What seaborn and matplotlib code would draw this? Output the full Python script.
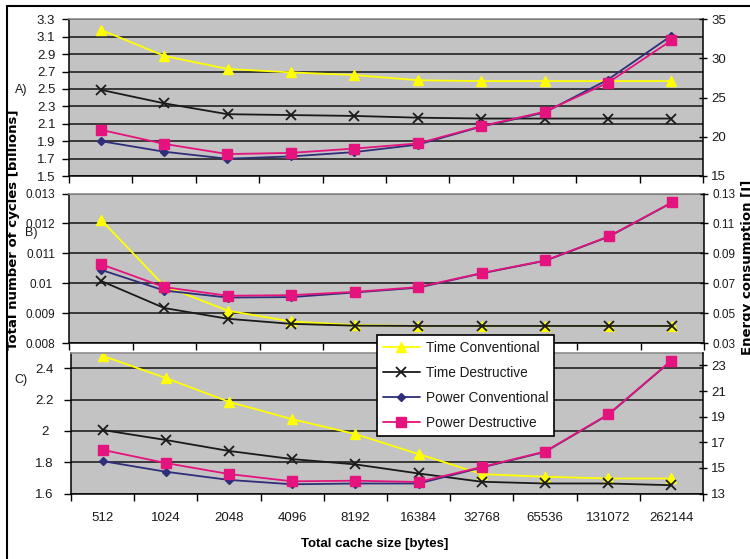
import numpy as np
import matplotlib
matplotlib.use("Agg")
import matplotlib.pyplot as plt
from matplotlib.lines import Line2D
from matplotlib.ticker import FixedLocator
import seaborn as sns

# Cache sizes (bytes) shared by all three panels
cache_sizes = ["512", "1024", "2048", "4096", "8192", "16384",
               "32768", "65536", "131072", "262144"]

# Panel A: cycles [billions] (left) and energy [J] (right)
a_time_conv = [3.18, 2.88, 2.73, 2.69, 2.66, 2.60, 2.59, 2.59, 2.59, 2.59]
a_time_dest = [2.49, 2.335, 2.21, 2.20, 2.19, 2.17, 2.16, 2.16, 2.16, 2.16]
a_power_conv = [19.45, 18.1, 17.2, 17.5, 18.05, 19.0, 21.3, 23.1, 27.3, 32.9]
a_power_dest = [20.9, 19.1, 17.8, 17.95, 18.5, 19.15, 21.35, 23.2, 26.9, 32.3]

# Panel B
b_time_conv = [0.01213, 0.00991, 0.00908, 0.00872, 0.00860, 0.00857,
               0.00857, 0.00857, 0.00857, 0.00857]
b_time_dest = [0.01008, 0.00917, 0.00881, 0.00864, 0.00858, 0.00857,
               0.00857, 0.00857, 0.00857, 0.00857]
b_power_conv = [0.0790, 0.0651, 0.0604, 0.0607, 0.0638, 0.0670,
                0.0766, 0.0850, 0.1011, 0.1240]
b_power_dest = [0.0828, 0.0674, 0.0616, 0.0620, 0.0642, 0.0674,
                0.0768, 0.0852, 0.1013, 0.1242]

# Panel C
c_time_conv = [2.48, 2.338, 2.186, 2.075, 1.98, 1.852, 1.724, 1.707, 1.696, 1.696]
c_time_dest = [2.006, 1.942, 1.872, 1.82, 1.786, 1.728, 1.675, 1.664, 1.664, 1.653]
c_power_conv = [15.53, 14.7, 14.06, 13.72, 13.78, 13.78, 15.03, 16.25, 19.15, 23.37]
c_power_dest = [16.41, 15.38, 14.52, 13.95, 14.0, 13.9, 15.07, 16.28, 19.18, 23.39]

series_labels = ["Time Conventional", "Time Destructive",
                 "Power Conventional", "Power Destructive"]

YELLOW = "#FFFF00"
BLACK = "#1a1a1a"
NAVY = "#2E2E7A"
PINK = "#E4137D"
PLOT_BG = "#C3C3C3"
GRID = "#222222"
TEXT = "#1a1a1a"

styles = [
    dict(color=YELLOW, marker="^", markersize=7.5, mec=YELLOW, mfc=YELLOW, mew=1),
    dict(color=BLACK, marker="x", markersize=7, mec=BLACK, mew=1.3),
    dict(color=NAVY, marker="D", markersize=4.5, mec=NAVY, mfc=NAVY, mew=1),
    dict(color=PINK, marker="s", markersize=6.5, mec=PINK, mfc=PINK, mew=1),
]

sns.set_theme(style="white")
plt.rcParams["font.family"] = ["Liberation Sans", "DejaVu Sans"]

W, H = 750, 559
fig = plt.figure(figsize=(W / 100, H / 100), dpi=100)
fig.patch.set_facecolor("white")


def rect(x0, y0, x1, y1):
    return [x0 / W, 1 - y1 / H, (x1 - x0) / W, (y1 - y0) / H]


def fmt(v):
    return "%g" % round(v, 6)


def draw_panel(box, left_lim, left_ticks, right_lim, right_ticks,
               tc, td, pc, pdv, fs, left_pad, show_x):
    ax = fig.add_axes(rect(*box))
    ax.set_facecolor(PLOT_BG)
    ax2 = ax.twinx()

    for vals, st in ((tc, styles[0]), (td, styles[1])):
        sns.lineplot(x=cache_sizes, y=vals, ax=ax, estimator=None,
                     errorbar=None, sort=False, linewidth=1.3, **st)
    for vals, st in ((pc, styles[2]), (pdv, styles[3])):
        sns.lineplot(x=cache_sizes, y=vals, ax=ax2, estimator=None,
                     errorbar=None, sort=False, linewidth=1.3, **st)

    ax.set_xlim(-0.5, len(cache_sizes) - 0.5)
    ax.set_ylim(*left_lim)
    ax2.set_ylim(*right_lim)

    # left axis
    ax.set_yticks(left_ticks, [fmt(v) for v in left_ticks], ha="center")
    ax.tick_params(axis="y", direction="out", length=5, width=1,
                   color="black", labelsize=fs, labelcolor=TEXT, pad=left_pad,
                   left=True)
    ax.yaxis.grid(True, color=GRID, linewidth=1.2)
    ax.xaxis.grid(False)
    ax.set_axisbelow(True)

    # right axis
    ax2.set_yticks(right_ticks, [fmt(v) for v in right_ticks])
    ax2.tick_params(axis="y", direction="inout", length=6, width=1,
                    color="black", labelsize=fs, labelcolor=TEXT, pad=3,
                    right=True)
    ax2.grid(False)

    # x axis: marks between categories, labels at the categories
    ax.set_xticks(range(len(cache_sizes)))
    if show_x:
        ax.set_xticklabels(cache_sizes)
    else:
        ax.set_xticklabels([])
    ax.xaxis.set_minor_locator(FixedLocator(np.arange(-0.5, len(cache_sizes), 1)))
    ax.tick_params(axis="x", which="major", length=0, labelsize=9.5,
                   labelcolor=TEXT, pad=13)
    ax.tick_params(axis="x", which="minor", direction="out", length=5,
                   width=1, color="black", bottom=True)
    ax.set_xlabel("")
    ax.set_ylabel("")
    ax2.set_ylabel("")

    for a in (ax, ax2):
        for s in a.spines.values():
            s.set_visible(False)
    ax.spines["left"].set_visible(True)
    ax.spines["left"].set_color("black")
    ax.spines["left"].set_linewidth(1.1)
    ax.spines["bottom"].set_visible(True)
    ax.spines["bottom"].set_color("black")
    ax.spines["bottom"].set_linewidth(1.1)
    ax.spines["top"].set_visible(True)
    ax.spines["top"].set_color("#8c8c8c")
    ax.spines["top"].set_linewidth(1.2)
    ax2.spines["right"].set_visible(True)
    ax2.spines["right"].set_color("black")
    ax2.spines["right"].set_linewidth(1.1)
    return ax, ax2


draw_panel((69, 19.3, 703, 176), (1.5, 3.3), np.arange(1.5, 3.31, 0.2),
           (15, 35), np.arange(15, 35.1, 5),
           a_time_conv, a_time_dest, a_power_conv, a_power_dest,
           9.5, 11.5, False)
draw_panel((69, 193.5, 704, 343), (0.008, 0.013), np.arange(0.008, 0.01301, 0.001),
           (0.03, 0.13), np.arange(0.03, 0.1301, 0.02),
           b_time_conv, b_time_dest, b_power_conv, b_power_dest,
           8.5, 15.3, False)
axc, axc2 = draw_panel((71, 352.7, 703, 493.5), (1.6, 2.5), np.arange(1.6, 2.41, 0.2),
                       (13, 24), np.arange(13, 23.1, 2),
                       c_time_conv, c_time_dest, c_power_conv, c_power_dest,
                       9.5, 14, True)

# panel letters
for txt, x, y in (("A)", 21, 89.5), ("B)", 31, 233), ("C)", 21, 380)):
    fig.text(x / W, 1 - y / H, txt, ha="center", va="center",
             fontsize=9, color=TEXT)

# axis titles
bold = dict(fontweight="bold", color="black", family=["DejaVu Sans"])
fig.text(375 / W, 1 - 544 / H, "Total cache size [bytes]", ha="center",
         va="center", fontsize=9.5, fontweight="bold", color="black")
fig.text(14 / W, 1 - 230 / H, "Total number of cycles [billions]", ha="center",
         va="center", rotation=90, fontsize=9.5, **bold)
fig.text(747 / W, 1 - 267 / H, "Energy consumption [J]", ha="center",
         va="center", rotation=90, fontsize=9.5, **bold)

# legend
handles = [axc.lines[0], axc.lines[1], axc2.lines[0], axc2.lines[1]]
leg = fig.legend(handles, series_labels, loc="upper left",
                 bbox_to_anchor=(376.7 / W, 1 - 335 / H), borderaxespad=0,
                 frameon=True, fancybox=False, framealpha=1, edgecolor="black",
                 facecolor="white", fontsize=9.8, borderpad=0.45,
                 labelspacing=0.8, handlelength=2.7, handletextpad=0.45)
leg.get_frame().set_linewidth(1.2)
for t in leg.get_texts():
    t.set_color(TEXT)

# chart-area border along the top and left edges
fig.add_artist(Line2D([7 / W, 7 / W], [-0.01, 1 - 6 / H], transform=fig.transFigure,
                      color="black", linewidth=1.5))
fig.add_artist(Line2D([7 / W, 1.01], [1 - 6 / H, 1 - 6 / H], transform=fig.transFigure,
                      color="black", linewidth=1.5))

fig.savefig("out.png", dpi=100)
